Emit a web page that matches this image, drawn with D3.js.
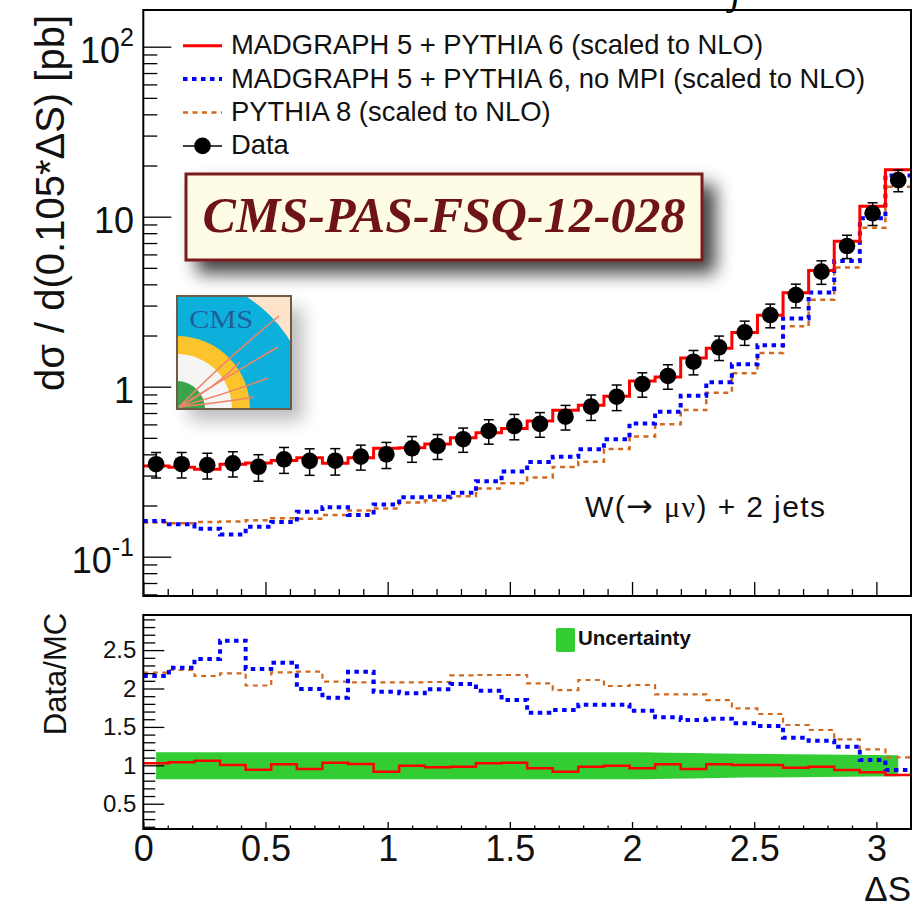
<!DOCTYPE html>
<html>
<head>
<meta charset="utf-8">
<script src="https://cdn.jsdelivr.net/npm/d3@7"></script>
<style>
  body { margin: 0; background: #fff; }
  svg { display: block; font-family: 'Liberation Sans', Arial, Helvetica, sans-serif; }
</style>
</head>
<body>
<div class="chart"></div>
<script>
const width = 924
const height = 903

// 30 bins in Delta S, from 0 to pi
const nBins = 30
const binWidth = Math.PI / nBins

const dataVals = [0.350, 0.350, 0.346, 0.354, 0.338, 0.374, 0.366, 0.367, 0.388, 0.400,
  0.434, 0.448, 0.491, 0.549, 0.587, 0.604, 0.666, 0.763, 0.873, 1.037,
  1.156, 1.403, 1.705, 2.09, 2.64, 3.46, 4.75, 6.72, 10.47, 16.4]
const dataErr = [0.06, 0.06, 0.06, 0.06, 0.06, 0.065, 0.065, 0.065, 0.065, 0.07,
  0.075, 0.075, 0.08, 0.09, 0.10, 0.10, 0.11, 0.13, 0.15, 0.17,
  0.19, 0.23, 0.28, 0.34, 0.42, 0.55, 0.75, 1.05, 1.6, 2.4]

const mgP6 = [0.342, 0.336, 0.327, 0.350, 0.356, 0.368, 0.382, 0.355, 0.382, 0.435,
  0.438, 0.460, 0.500, 0.535, 0.568, 0.628, 0.726, 0.777, 0.877, 1.079,
  1.141, 1.474, 1.683, 2.08, 2.63, 3.57, 4.83, 7.18, 11.5, 18.9]
const mgP6NoMPI = [0.162, 0.155, 0.146, 0.135, 0.150, 0.160, 0.184, 0.195, 0.176, 0.203,
  0.224, 0.225, 0.238, 0.278, 0.317, 0.360, 0.387, 0.428, 0.490, 0.607,
  0.712, 0.885, 1.061, 1.353, 1.75, 2.52, 3.58, 5.48, 9.8, 17.5]
const pythia8 = [0.159, 0.157, 0.160, 0.161, 0.164, 0.168, 0.167, 0.176, 0.187, 0.192,
  0.208, 0.214, 0.227, 0.252, 0.270, 0.292, 0.337, 0.362, 0.430, 0.510,
  0.601, 0.729, 0.922, 1.20, 1.58, 2.27, 3.25, 5.03, 8.6, 15.0]

const ratioMgP6 = [1.026, 1.039, 1.060, 1.004, 0.943, 1.013, 0.952, 1.034, 1.017, 0.917,
  0.995, 0.974, 0.982, 1.026, 1.034, 0.961, 0.917, 0.982, 0.995, 0.961,
  1.013, 0.952, 1.013, 1.004, 1.004, 0.969, 0.982, 0.939, 0.909, 0.874]
const ratioNoMPI = [2.163, 2.271, 2.384, 2.622, 2.254, 2.336, 1.993, 1.880, 2.219, 1.958,
  1.938, 1.990, 2.059, 1.971, 1.850, 1.685, 1.720, 1.789, 1.789, 1.711,
  1.625, 1.590, 1.607, 1.547, 1.512, 1.359, 1.320, 1.242, 1.069, 0.939]
const ratioPythia8 = [2.206, 2.241, 2.163, 2.197, 2.039, 2.210, 2.219, 2.089, 2.080, 2.080,
  2.080, 2.085, 2.170, 2.176, 2.176, 2.067, 1.980, 2.111, 2.033, 2.046,
  1.924, 1.924, 1.850, 1.742, 1.668, 1.525, 1.460, 1.339, 1.208, 1.104]

const uncUp = [1.17, 1.17, 1.17, 1.17, 1.17, 1.17, 1.17, 1.17, 1.17, 1.17,
  1.17, 1.17, 1.17, 1.17, 1.17, 1.17, 1.17, 1.17, 1.17, 1.17,
  1.165, 1.16, 1.155, 1.15, 1.147, 1.144, 1.141, 1.138, 1.135, 1.132]
const uncDown = [0.82, 0.82, 0.82, 0.82, 0.82, 0.82, 0.82, 0.82, 0.82, 0.82,
  0.82, 0.82, 0.82, 0.82, 0.82, 0.82, 0.82, 0.82, 0.82, 0.82,
  0.825, 0.83, 0.835, 0.84, 0.843, 0.846, 0.849, 0.852, 0.855, 0.858]

const legendLabels = [
  'MADGRAPH 5 + PYTHIA 6 (scaled to NLO)',
  'MADGRAPH 5 + PYTHIA 6, no MPI (scaled to NLO)',
  'PYTHIA 8 (scaled to NLO)',
  'Data'
]
const xMajorTicks = [0, 0.5, 1, 1.5, 2, 2.5, 3]
const topMajorTicks = [0.1, 1, 10, 100]
const topTickLabels = [['10', '-1'], ['1', ''], ['10', ''], ['10', '2']]
const ratioMajorTicks = [0.5, 1, 1.5, 2, 2.5]

const theme = {
  red: '#ff0000',
  blue: '#0000ff',
  orange: '#d2691e',
  band: '#33cc33',
  boxFill: '#fffce6',
  boxRed: '#6e1417'
}

// panel geometry
const upper = { x0: 143.3, x1: 911, y0: 10, y1: 596 }
const lower = { x0: 143.3, x1: 911, y0: 615, y1: 829 }

const x = d3.scaleLinear().domain([0, Math.PI]).range([upper.x0, upper.x1])
const yTop = d3.scaleLog().domain([0.0587, 164.4]).range([upper.y1, upper.y0])
const yBot = d3.scaleLinear().domain([0.171, 2.957]).range([lower.y1, lower.y0])

const svg = d3.select('.chart').append('svg')
  .attr('width', width)
  .attr('height', height)

const defs = svg.append('defs')
defs.append('clipPath').attr('id', 'clipTop')
  .append('rect').attr('x', upper.x0).attr('y', upper.y0)
  .attr('width', upper.x1 - upper.x0).attr('height', upper.y1 - upper.y0)
defs.append('clipPath').attr('id', 'clipBot')
  .append('rect').attr('x', lower.x0).attr('y', lower.y0)
  .attr('width', lower.x1 - lower.x0).attr('height', lower.y1 - lower.y0)

const shadow = defs.append('filter').attr('id', 'shadow')
  .attr('x', '-20%').attr('y', '-40%').attr('width', '150%').attr('height', '200%')
shadow.append('feGaussianBlur').attr('in', 'SourceAlpha').attr('stdDeviation', 9)
shadow.append('feOffset').attr('dx', 12).attr('dy', 12).attr('result', 'off')
shadow.append('feComponentTransfer').append('feFuncA').attr('type', 'linear').attr('slope', 0.75)
const merge = shadow.append('feMerge')
merge.append('feMergeNode')
merge.append('feMergeNode').attr('in', 'SourceGraphic')

const logoClip = defs.append('clipPath').attr('id', 'clipLogo')
logoClip.append('rect').attr('x', 177).attr('y', 296).attr('width', 114).attr('height', 113)

// histogram as step line over the bin edges
function histLine(vals, y) {
  const pts = vals.map((v, i) => [i * binWidth, v])
  pts.push([Math.PI, vals[vals.length - 1]])
  return d3.line()
    .x(d => x(d[0]))
    .y(d => y(d[1]))
    .curve(d3.curveStepAfter)(pts)
}

const series = [
  { vals: pythia8, ratio: ratioPythia8, color: theme.orange, width: 2.5, dash: '5,4.5', ratioWidth: 2.2 },
  { vals: mgP6NoMPI, ratio: ratioNoMPI, color: theme.blue, width: 4, dash: '4.5,4.5', ratioWidth: 4 },
  { vals: mgP6, ratio: ratioMgP6, color: theme.red, width: 3, dash: null, ratioWidth: 2.5 }
]

// ---------- upper panel ----------
const gTop = svg.append('g').attr('clip-path', 'url(#clipTop)')

series.forEach(s => {
  gTop.append('path')
    .attr('d', histLine(s.vals, yTop))
    .attr('fill', 'none')
    .attr('stroke', s.color)
    .attr('stroke-width', s.width)
    .attr('stroke-dasharray', s.dash)
})

const points = gTop.append('g').selectAll('g')
  .data(dataVals.map((v, i) => ({ v, e: dataErr[i], c: (i + 0.5) * binWidth })))
  .enter()
  .append('g')

points.append('line')
  .attr('x1', d => x(d.c)).attr('x2', d => x(d.c))
  .attr('y1', d => yTop(d.v + d.e)).attr('y2', d => yTop(d.v - d.e))
  .attr('stroke', '#000').attr('stroke-width', 1.5)
points.selectAll('.cap')
  .data(d => [d.v + d.e, d.v - d.e].map(y => ({ c: d.c, y })))
  .enter()
  .append('line')
  .attr('x1', d => x(d.c) - 5).attr('x2', d => x(d.c) + 5)
  .attr('y1', d => yTop(d.y)).attr('y2', d => yTop(d.y))
  .attr('stroke', '#000').attr('stroke-width', 1.5)
points.append('circle')
  .attr('cx', d => x(d.c)).attr('cy', d => yTop(d.v))
  .attr('r', 8.3)
  .attr('fill', '#000')

// upper frame and axes
svg.append('rect')
  .attr('x', upper.x0).attr('y', upper.y0)
  .attr('width', upper.x1 - upper.x0).attr('height', upper.y1 - upper.y0)
  .attr('fill', 'none').attr('stroke', '#000').attr('stroke-width', 2)

function tickAxis(axis, transform) {
  const g = svg.append('g').attr('transform', transform).call(axis)
  g.select('.domain').remove()
  g.selectAll('.tick line').attr('stroke-width', 1.3)
  return g
}

const xMinor = d3.range(0, 31).map(i => i / 10).filter(v => xMajorTicks.indexOf(v) < 0)

tickAxis(d3.axisBottom(x).tickValues(xMinor).tickSizeInner(-7).tickSizeOuter(0).tickFormat(''),
  `translate(0,${upper.y1})`)
tickAxis(d3.axisBottom(x).tickValues(xMajorTicks).tickSizeInner(-14).tickSizeOuter(0).tickFormat(''),
  `translate(0,${upper.y1})`)

const logMinor = []
;[-2, -1, 0, 1, 2].forEach(p => {
  for (let m = 2; m <= 9; m++) {
    const v = m * Math.pow(10, p)
    if (v > yTop.domain()[0] && v < yTop.domain()[1]) logMinor.push(v)
  }
})
tickAxis(d3.axisLeft(yTop).tickValues(logMinor).tickSizeInner(-14).tickSizeOuter(0).tickFormat(''),
  `translate(${upper.x0},0)`)
tickAxis(d3.axisLeft(yTop).tickValues(topMajorTicks).tickSizeInner(-28).tickSizeOuter(0).tickFormat(''),
  `translate(${upper.x0},0)`)

const topLabels = svg.append('g').selectAll('text')
  .data(topMajorTicks)
  .enter()
  .append('text')
  .attr('x', 134)
  .attr('y', d => yTop(d) + 16)
  .attr('text-anchor', 'end')
  .attr('font-size', 36)
  .attr('fill', '#111')
topLabels.append('tspan').text((d, i) => topTickLabels[i][0])
topLabels.append('tspan')
  .attr('font-size', 25)
  .attr('dy', -17)
  .text((d, i) => topTickLabels[i][1])

svg.append('text')
  .attr('transform', 'translate(64,203) rotate(-90)')
  .attr('text-anchor', 'middle')
  .attr('font-size', 40)
  .attr('fill', '#111')
  .text('dσ / d(0.105*ΔS) [pb]')

// clipped title remnant above the frame
svg.append('text')
  .attr('x', 736).attr('y', 4)
  .attr('text-anchor', 'middle')
  .attr('font-family', "'Liberation Serif', 'Times New Roman', serif")
  .attr('font-style', 'italic')
  .attr('font-size', 40)
  .text('j')

// legend
const legendStyles = [series[2], series[1], series[0]]
const legend = svg.append('g').selectAll('g')
  .data(legendLabels)
  .enter()
  .append('g')
  .attr('transform', (d, i) => `translate(0,${45.7 + i * 33.4})`)

legend.append('text')
  .attr('x', 231)
  .attr('y', 8.5)
  .attr('font-size', 27.4)
  .attr('fill', '#111')
  .text(d => d)

legend.filter((d, i) => i < 3)
  .append('line')
  .attr('x1', 183).attr('x2', 222)
  .attr('stroke', (d, i) => legendStyles[i].color)
  .attr('stroke-width', (d, i) => legendStyles[i].width)
  .attr('stroke-dasharray', (d, i) => legendStyles[i].dash)

const dataKey = legend.filter((d, i) => i === 3)
dataKey.append('line')
  .attr('x1', 183).attr('x2', 222)
  .attr('stroke', '#000').attr('stroke-width', 1.5)
dataKey.append('circle')
  .attr('cx', 202.5).attr('r', 8.3).attr('fill', '#000')

// CMS-PAS label box
svg.append('rect')
  .attr('x', 186).attr('y', 174)
  .attr('width', 516).attr('height', 86)
  .attr('fill', theme.boxFill)
  .attr('stroke', '#7a1a1c')
  .attr('stroke-width', 3)
  .attr('filter', 'url(#shadow)')
svg.append('text')
  .attr('x', 444).attr('y', 232)
  .attr('text-anchor', 'middle')
  .attr('font-family', "'Liberation Serif', 'Times New Roman', serif")
  .attr('font-weight', 'bold')
  .attr('font-style', 'italic')
  .attr('font-size', 50)
  .attr('fill', theme.boxRed)
  .attr('textLength', 483)
  .attr('lengthAdjust', 'spacingAndGlyphs')
  .text('CMS-PAS-FSQ-12-028')

// CMS logo
const logo = svg.append('g')
logo.append('rect')
  .attr('x', 177).attr('y', 296).attr('width', 114).attr('height', 113)
  .attr('fill', '#fff').attr('filter', 'url(#shadow)').attr('opacity', 0.35)
const logoIn = logo.append('g').attr('clip-path', 'url(#clipLogo)')
logoIn.append('rect')
  .attr('x', 177).attr('y', 296).attr('width', 114).attr('height', 113)
  .attr('fill', '#fce3ca')
const rings = [[132, '#0cb0da'], [73, '#fbc42c'], [55, '#f5f5f3'], [28, '#3aa34c']]
logoIn.selectAll('circle')
  .data(rings)
  .enter()
  .append('circle')
  .attr('cx', 177).attr('cy', 409)
  .attr('r', d => d[0])
  .attr('fill', d => d[1])
logoIn.append('text')
  .attr('x', 189).attr('y', 328)
  .attr('font-family', "'Liberation Serif', 'Times New Roman', serif")
  .attr('font-size', 25)
  .attr('textLength', 64)
  .attr('lengthAdjust', 'spacingAndGlyphs')
  .attr('fill', '#24508e')
  .attr('opacity', 0.85)
  .text('CMS')
const tracks = [
  [[179, 407], [225, 360], [279, 316]],
  [[179, 407], [235, 372], [278, 347]],
  [[179, 407], [232, 392], [268, 378]],
  [[179, 407], [225, 402], [254, 397]],
  [[179, 407], [215, 388], [240, 362]]
]
logoIn.selectAll('path')
  .data(tracks)
  .enter()
  .append('path')
  .attr('d', d => `M${d[0]}Q${d[1]} ${d[2]}`)
  .attr('fill', 'none')
  .attr('stroke', '#ee8466')
  .attr('stroke-width', 1.6)
logo.append('rect')
  .attr('x', 177).attr('y', 296).attr('width', 114).attr('height', 113)
  .attr('fill', 'none').attr('stroke', '#6d5a48').attr('stroke-width', 2)

// process label
const proc = svg.append('text')
  .attr('x', 585).attr('y', 517)
  .attr('font-size', 30)
  .attr('fill', '#111')
  .attr('textLength', 240)
  .attr('lengthAdjust', 'spacing')
proc.append('tspan').text('W(')
proc.append('tspan')
  .attr('font-family', "'DejaVu Sans', sans-serif")
  .attr('font-size', 32)
  .text('→')
proc.append('tspan').text('  ')
proc.append('tspan')
  .attr('font-family', "'Liberation Serif', 'Times New Roman', serif")
  .text('μν')
proc.append('tspan').text(') + 2 jets')

// ---------- ratio panel ----------
const gBot = svg.append('g').attr('clip-path', 'url(#clipBot)')

gBot.append('path')
  .datum(d3.range(nBins))
  .attr('d', d3.area()
    .x(i => x((i + 0.5) * binWidth))
    .y0(i => yBot(uncDown[i]))
    .y1(i => yBot(uncUp[i])))
  .attr('fill', theme.band)

series.forEach(s => {
  gBot.append('path')
    .attr('d', histLine(s.ratio, yBot))
    .attr('fill', 'none')
    .attr('stroke', s.color)
    .attr('stroke-width', s.ratioWidth)
    .attr('stroke-dasharray', s.dash)
})

svg.append('rect')
  .attr('x', lower.x0).attr('y', lower.y0)
  .attr('width', lower.x1 - lower.x0).attr('height', lower.y1 - lower.y0)
  .attr('fill', 'none').attr('stroke', '#000').attr('stroke-width', 2)

tickAxis(d3.axisBottom(x).tickValues(xMinor).tickSizeInner(-3.5).tickSizeOuter(0).tickFormat(''),
  `translate(0,${lower.y1})`)
tickAxis(d3.axisBottom(x).tickValues(xMajorTicks).tickSizeInner(-7).tickSizeOuter(0)
  .tickPadding(6.5).tickFormat(d3.format('~g')), `translate(0,${lower.y1})`)
  .selectAll('text')
  .attr('font-size', 36)
  .attr('font-family', null)
  .attr('fill', '#111')

const ratioMinor = d3.range(2, 30).map(i => i / 10).filter(v => ratioMajorTicks.indexOf(v) < 0)
tickAxis(d3.axisLeft(yBot).tickValues(ratioMinor).tickSizeInner(-12).tickSizeOuter(0).tickFormat(''),
  `translate(${lower.x0},0)`)
tickAxis(d3.axisLeft(yBot).tickValues(ratioMajorTicks).tickSizeInner(-21).tickSizeOuter(0)
  .tickPadding(7).tickFormat(d3.format('~g')), `translate(${lower.x0},0)`)
  .selectAll('text')
  .attr('font-size', 24)
  .attr('font-family', null)
  .attr('fill', '#111')

svg.append('text')
  .attr('transform', 'translate(66,674) rotate(-90)')
  .attr('text-anchor', 'middle')
  .attr('font-size', 31)
  .attr('fill', '#111')
  .text('Data/MC')

svg.append('text')
  .attr('x', 911).attr('y', 901)
  .attr('text-anchor', 'end')
  .attr('font-size', 35)
  .attr('fill', '#111')
  .text('ΔS')

// uncertainty key
svg.append('rect')
  .attr('x', 556).attr('y', 628)
  .attr('width', 19).attr('height', 24)
  .attr('rx', 2)
  .attr('fill', theme.band)
svg.append('text')
  .attr('x', 578).attr('y', 645)
  .attr('font-size', 20.5)
  .attr('font-weight', 'bold')
  .attr('fill', '#111')
  .text('Uncertainty')
</script>
</body>
</html>
